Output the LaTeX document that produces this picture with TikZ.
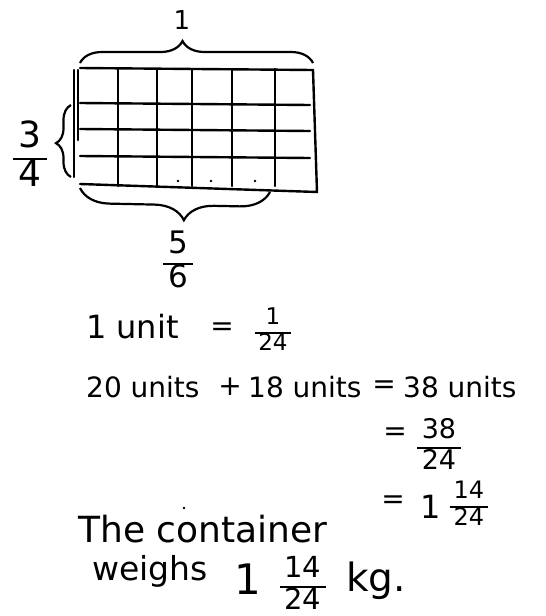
\documentclass[tikz,border=0pt]{standalone}
\usepackage{fontspec}
\setmainfont{DejaVu Sans}
\usepackage{tikz}
\usetikzlibrary{positioning,decorations.pathreplacing}

\newcommand{\frc}[2]{\setlength{\arrayrulewidth}{2pt}\begin{tabular}{@{\,}c@{\,}}#1\\\hline #2\end{tabular}}
\newcommand{\sz}[1]{\fontsize{#1}{#1}\selectfont}

\begin{document}
\begin{tikzpicture}[
    x=1pt, y=-1pt,
    gridline/.style={line width=2.4pt, line cap=round},
    bracket/.style={line width=2.2pt, decorate, decoration={brace, amplitude=#1}},
    txt/.style={inner sep=0pt, anchor=base west},
    sym/.style={inner sep=0pt}
  ]
    \path[fill=white, use as bounding box] (0,0) rectangle (546,616);

    % Grid: 4 rows x 6 columns
    \draw[gridline] (80,68) -- (313,70) -- (317,192) -- (80,184);
    \draw[gridline] (74,70) -- (74,177);
    \draw[gridline] (78,70) -- (78,140);
    \foreach \x in {118,157,192,232,275}
      \draw[gridline] (\x,69) -- (\x,186);
    \foreach \y in {103,129,156}
      \draw[gridline] (80,\y) -- (310,\y+2);
    \foreach \x in {178,211,255}
      \fill (\x,181) circle (1.4);

    % Braces
    \draw[bracket=22pt, decoration={aspect=0.44}] (80,63) -- (313,63);
    \coordinate (toptip) at (182,40);
    \node[sym, above=10pt of toptip, font=\sz{26}] (whole) {1};

    \draw[bracket=15pt, decoration={aspect=0.47}] (71,177) -- (71,105);
    \node[sym, font=\sz{36}] (threequarter) at (30,159) {\frc{3}{4}};

    \draw[bracket=30pt, decoration={aspect=0.45}] (270,192) -- (80,188);
    \node[sym, font=\sz{31}] (fivesixth) at (178,264) {\frc{5}{6}};

    % Working
    \node[txt, font=\sz{32}] (unit) at (86,338) {1 unit};
    \node[sym, font=\sz{28}] (eq1) at (222,329) {=};
    \node[sym, font=\sz{23}] (unitfrac) at (273,333) {\frc{1}{24}};

    \node[txt, font=\sz{28}] (twenty) at (86,397) {20 units};
    \node[sym, font=\sz{28}] (plus) at (230,387) {+};
    \node[txt, font=\sz{28}] (eighteen) at (248,397) {18 units};
    \node[sym, font=\sz{28}] (eq2) at (384,387) {=};
    \node[txt, font=\sz{28}] (total) at (403,397) {38 units};

    \node[sym, font=\sz{28}] (eq3) at (395,434) {=};
    \node[sym, font=\sz{27}] (totalfrac) at (439,448) {\frc{38}{24}};

    \node[sym, font=\sz{28}] (eq4) at (393,502) {=};
    \node[sym, font=\sz{32}] (whole1) at (431,507) {1};
    \node[sym, font=\sz{24}] (mixed1) at (469,507) {\frc{14}{24}};

    \fill (184,508) circle (1.4);

    % Answer
    \node[txt, font=\sz{36}] (the) at (78,542) {The container};
    \node[txt, font=\sz{33}] (weighs) at (92,580) {weighs};
    \node[sym, font=\sz{42}] (whole2) at (248,579) {1};
    \node[sym, font=\sz{29}] (mixed2) at (303,587) {\frc{14}{24}};
    \node[txt, font=\sz{39}] (kg) at (346,591) {kg.};
  \end{tikzpicture}
\end{document}
